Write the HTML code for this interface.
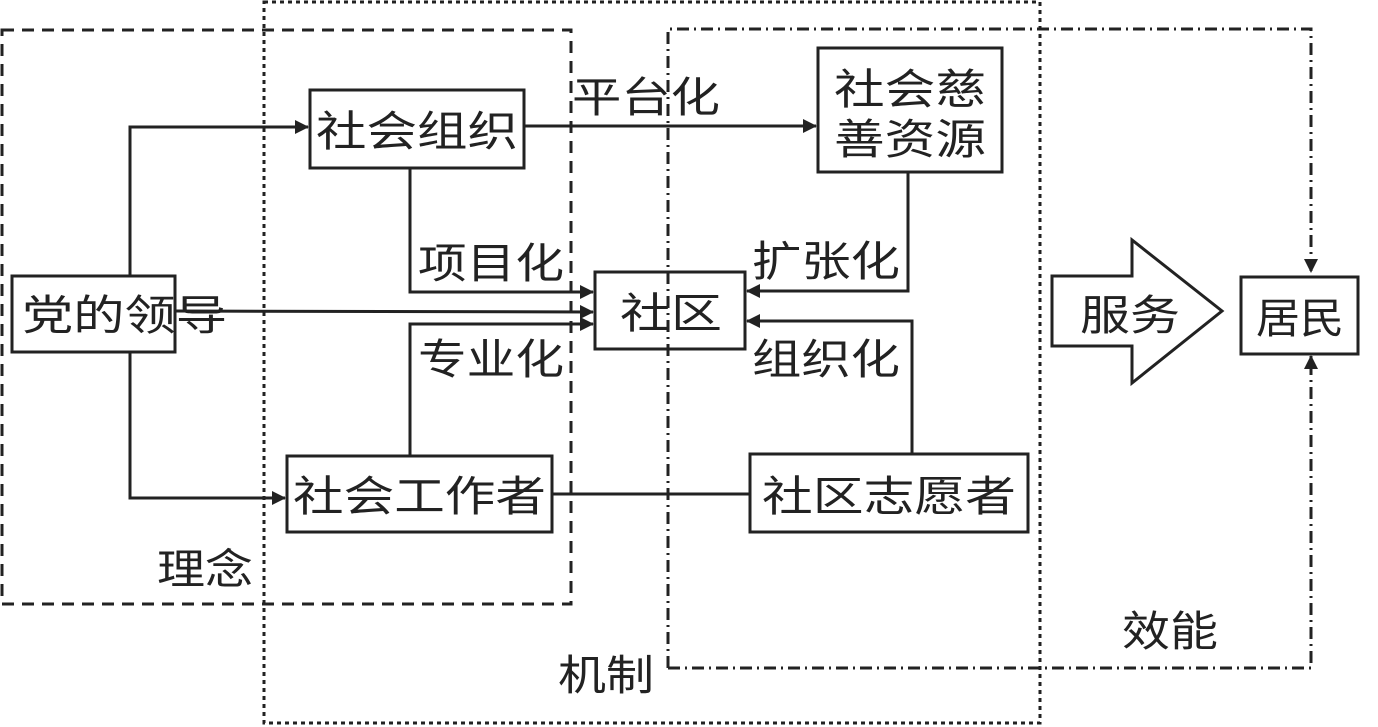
<!DOCTYPE html>
<html><head><meta charset="utf-8"><style>
html,body{margin:0;padding:0;background:#fff;}
svg{display:block;}
text{font-family:"Liberation Sans","Noto Sans CJK SC",sans-serif;font-size:42px;fill:#222;}
</style></head><body>
<svg width="1378" height="727" viewBox="0 0 1378 727" xmlns="http://www.w3.org/2000/svg">
<defs>
<marker id="a" markerWidth="10" markerHeight="10" refX="9" refY="5" orient="auto" markerUnits="userSpaceOnUse">
<path d="M0,0 L10,5 L0,10 Z" fill="#222"/></marker>
<marker id="b" markerWidth="14" markerHeight="14" refX="13" refY="7" orient="auto" markerUnits="userSpaceOnUse">
<path d="M0,0 L14,7 L0,14 Z" fill="#222"/></marker>
</defs>
<g fill="none" stroke="#222">
<!-- 理念 dashed -->
<rect x="2" y="30" width="569" height="574" stroke-width="3" stroke-dasharray="12,8"/>
<!-- 机制 dotted -->
<rect x="264" y="2" width="776" height="721" stroke-width="3" stroke-dasharray="4,4"/>
<!-- 效能 dash-dot -->
<path d="M668,668 L668,29 L1311,29 L1311,272" stroke-width="3" stroke-dasharray="12,5,2,5" marker-end="url(#b)"/>
<path d="M668,668 L1311,668 L1311,356" stroke-width="3" stroke-dasharray="12,5,2,5" marker-end="url(#b)"/>
<!-- boxes -->
<g stroke-width="3">
<rect x="12" y="276" width="163" height="76"/>
<rect x="310" y="90" width="214" height="78"/>
<rect x="595" y="272" width="150" height="77"/>
<rect x="818" y="48" width="184" height="124"/>
<rect x="287" y="456" width="265" height="76"/>
<rect x="750" y="454" width="278" height="78"/>
<rect x="1241" y="277" width="117" height="77"/>
</g>
<!-- service arrow -->
<path d="M1052,276 L1132,276 L1132,240 L1222,311 L1132,383 L1132,346 L1052,346 Z" stroke-width="3"/>
<!-- connectors -->
<g stroke-width="3">
<path d="M130,276 L130,127 L308,127" marker-end="url(#b)"/>
<path d="M130,352 L130,498 L285,498" marker-end="url(#b)"/>
<path d="M175,311 L593,312" marker-end="url(#b)"/>
<path d="M410,168 L410,292 L593,292" marker-end="url(#b)"/>
<path d="M410,456 L410,324 L593,324" marker-end="url(#b)"/>
<path d="M524,126 L816,126" marker-end="url(#b)"/>
<path d="M908,172 L908,291 L747,291" marker-end="url(#b)"/>
<path d="M912,454 L912,321 L747,321" marker-end="url(#b)"/>
<path d="M552,494 L750,494"/>
</g>
</g>
<!-- labels -->
<text x="22" y="330" textLength="205" lengthAdjust="spacingAndGlyphs">党的领导</text>
<text x="316" y="146" textLength="202" lengthAdjust="spacingAndGlyphs">社会组织</text>
<text x="620" y="328" textLength="102" lengthAdjust="spacingAndGlyphs">社区</text>
<text x="834" y="104" textLength="152" lengthAdjust="spacingAndGlyphs">社会慈</text>
<text x="834" y="154" textLength="152" lengthAdjust="spacingAndGlyphs">善资源</text>
<text x="293" y="511" textLength="253" lengthAdjust="spacingAndGlyphs">社会工作者</text>
<text x="762" y="511" textLength="254" lengthAdjust="spacingAndGlyphs">社区志愿者</text>
<text x="1256" y="333" textLength="88" lengthAdjust="spacingAndGlyphs">居民</text>
<text x="1080" y="330" textLength="100" lengthAdjust="spacingAndGlyphs">服务</text>
<text x="572" y="112" textLength="148" lengthAdjust="spacingAndGlyphs">平台化</text>
<text x="418" y="278" textLength="146" lengthAdjust="spacingAndGlyphs">项目化</text>
<text x="418" y="374" textLength="146" lengthAdjust="spacingAndGlyphs">专业化</text>
<text x="752" y="276" textLength="148" lengthAdjust="spacingAndGlyphs">扩张化</text>
<text x="752" y="374" textLength="148" lengthAdjust="spacingAndGlyphs">组织化</text>
<text x="157" y="584" textLength="96" lengthAdjust="spacingAndGlyphs">理念</text>
<text x="558" y="690" textLength="96" lengthAdjust="spacingAndGlyphs">机制</text>
<text x="1122" y="646" textLength="96" lengthAdjust="spacingAndGlyphs">效能</text>
</svg>
</body></html>
